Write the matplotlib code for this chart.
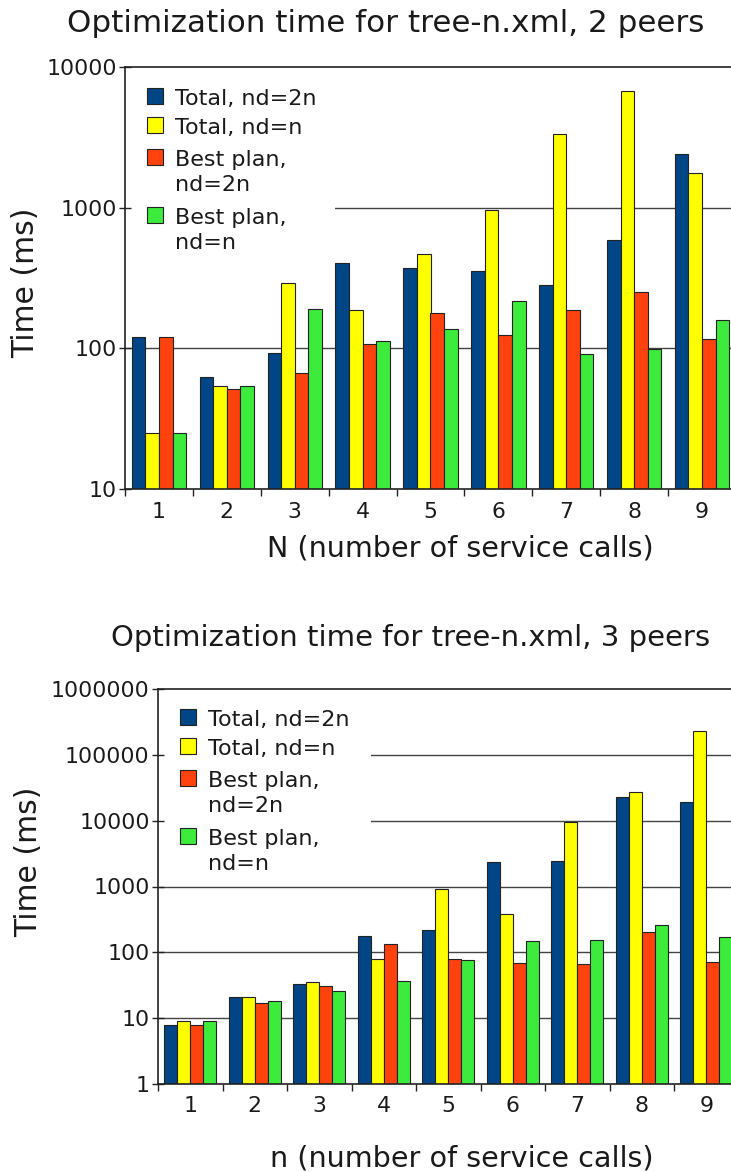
import matplotlib
matplotlib.use("Agg")
import matplotlib.pyplot as plt
import numpy as np
from matplotlib.patches import Rectangle

plt.rcParams['font.family'] = ['DejaVu Sans']

groups = [1, 2, 3, 4, 5, 6, 7, 8, 9]
series_names = ["Total, nd=2n", "Total, nd=n", "Best plan,\nnd=2n", "Best plan,\nnd=n"]
colors = ["#004586", "#ffff00", "#ff420e", "#3deb3d"]

# 2 peers
p2_total_2n = [120, 63, 93, 404, 370, 356, 284, 591, 2410]
p2_total_n = [25, 54, 290, 186, 465, 966, 3340, 6710, 1778]
p2_best_2n = [120, 51, 67, 107, 179, 124, 187, 251, 117]
p2_best_n = [25, 54, 190, 113, 137, 217, 91, 99, 158]

# 3 peers
p3_total_2n = [8, 21, 33, 177, 216, 2330, 2410, 23200, 19400]
p3_total_n = [9, 21, 36, 78, 916, 387, 9440, 27000, 230000]
p3_best_2n = [8, 17, 31, 135, 79, 68, 66, 206, 71]
p3_best_n = [9, 18, 26, 37, 76, 147, 152, 260, 171]

text_color = "#1a1a1a"
W, H = 731, 1172

fig = plt.figure(figsize=(W / 100, H / 100), dpi=100)


def fx(x):
    return x / W


def fy(y):
    return 1 - y / H


def draw(ax, data, ylim, yticks, legend_x, legend_dy, box):
    x = np.arange(len(groups))
    w = 0.2
    offs = [-1.5 * w, -0.5 * w, 0.5 * w, 1.5 * w]
    ax.set_yscale("log")
    ax.set_ylim(*ylim)
    ax.set_xlim(-0.5, len(groups) - 0.5)
    for yv in yticks[1:-1]:
        ax.axhline(yv, color="#444444", lw=1.0, zorder=0)
    for s, (vals, c) in enumerate(zip(data, colors)):
        ax.bar(x + offs[s], vals, width=w, color=c, edgecolor="#222222",
               linewidth=0.8, zorder=2)
    ax.set_yticks(yticks)
    ax.set_yticklabels([str(v) for v in yticks])
    ax.minorticks_off()
    ax.set_xticks(x)
    ax.set_xticklabels([str(g) for g in groups])
    ax.set_xticks(np.arange(len(groups) + 1) - 0.5, minor=True)
    ax.tick_params(axis="x", which="major", length=0, pad=9, labelsize=15.8, colors=text_color)
    ax.tick_params(axis="x", which="minor", length=5, width=1, direction="out", color="#222222")
    ax.tick_params(axis="y", which="major", length=8, width=1, direction="inout", pad=2,
                   labelsize=15.8, colors=text_color, color="#222222")
    ax.tick_params(axis="y", which="minor", length=0)
    for sp in ["left", "bottom", "top"]:
        ax.spines[sp].set_color("#222222")
        ax.spines[sp].set_linewidth(1.2)
    ax.spines["right"].set_visible(False)

    # legend: white background box, square handles, text aligned to first line
    bx0, by0, bx1, by1 = box
    ax.add_patch(Rectangle((fx(bx0), fy(by1)), fx(bx1) - fx(bx0), fy(by0) - fy(by1),
                           transform=fig.transFigure, facecolor="white",
                           edgecolor="none", zorder=1, clip_on=False))
    tops = [88, 117, 149, 207]
    hs = 16
    for name, c, t in zip(series_names, colors, tops):
        t = t + legend_dy
        ax.add_patch(Rectangle((fx(legend_x), fy(t + hs)), fx(hs), hs / H,
                               transform=fig.transFigure, facecolor=c,
                               edgecolor="#222222", linewidth=0.8, zorder=3,
                               clip_on=False))
        for k, line in enumerate(name.split("\n")):
            ax.text(fx(legend_x + 28), fy(t + 17 + 25 * k), line, transform=fig.transFigure,
                    fontsize=16, color=text_color, ha="left", va="baseline", zorder=3)


ax1 = fig.add_axes([fx(125), fy(489), fx(736 - 125), (489 - 67) / H])
draw(ax1, [p2_total_2n, p2_total_n, p2_best_2n, p2_best_n], (10, 10000),
     [10, 100, 1000, 10000], 147, 0, (126, 75, 335, 275))

ax2 = fig.add_axes([fx(158), fy(1084), fx(738.5 - 158), (1084 - 689) / H])
draw(ax2, [p3_total_2n, p3_total_n, p3_best_2n, p3_best_n], (1, 1000000),
     [1, 10, 100, 1000, 10000, 100000, 1000000], 180, 621, (159, 697, 371, 878))

fig.text(fx(386), fy(32), "Optimization time for tree-n.xml, 2 peers", fontsize=22.3,
         color=text_color, ha="center", va="baseline")
fig.text(fx(411), fy(646), "Optimization time for tree-n.xml, 3 peers", fontsize=21,
         color=text_color, ha="center", va="baseline")
fig.text(fx(460), fy(556), "N (number of service calls)", fontsize=20.6,
         color=text_color, ha="center", va="baseline")
fig.text(fx(462), fy(1167), "n (number of service calls)", fontsize=20.6,
         color=text_color, ha="center", va="baseline")
fig.text(fx(26), fy(283), "Time (ms)", fontsize=21.5, rotation=90,
         color=text_color, ha="center", va="center")
fig.text(fx(29), fy(862), "Time (ms)", fontsize=21.5, rotation=90,
         color=text_color, ha="center", va="center")

fig.savefig("out.png", dpi=100)
